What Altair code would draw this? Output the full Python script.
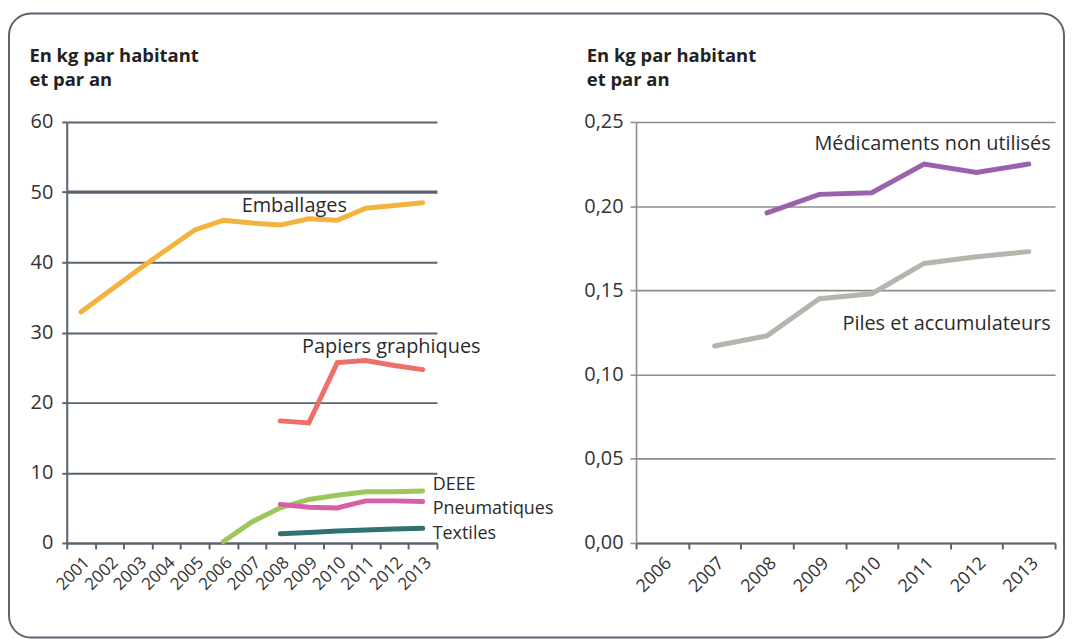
import altair as alt
import pandas as pd

# ---------------- data ----------------
left_years = [str(y) for y in range(2001, 2014)]
emballages = [32.9, 35.9, 38.9, 41.8, 44.6, 46.0, 45.6, 45.3, 46.2, 46.0, 47.7, 48.1, 48.5]
papiers = [None, None, None, None, None, None, None, 17.4, 17.1, 25.7, 26.0, 25.3, 24.7]
deee = [None, None, None, None, None, 0.2, 3.0, 5.0, 6.2, 6.8, 7.3, 7.3, 7.4]
pneumatiques = [None, None, None, None, None, None, None, 5.5, 5.1, 5.0, 6.0, 6.0, 5.9]
textiles = [None, None, None, None, None, None, None, 1.3, 1.5, 1.7, 1.85, 2.0, 2.1]
left_ticks = [0, 10, 20, 30, 40, 50, 60]

right_years = [str(y) for y in range(2006, 2014)]
medicaments = [None, None, 0.196, 0.207, 0.208, 0.225, 0.220, 0.225]
piles = [None, 0.117, 0.123, 0.145, 0.148, 0.166, 0.170, 0.173]
right_ticks = [0, 0.05, 0.10, 0.15, 0.20, 0.25]

left_series = {
    "Emballages": emballages,
    "Papiers graphiques": papiers,
    "DEEE": deee,
    "Pneumatiques": pneumatiques,
    "Textiles": textiles,
}
right_series = {
    "Médicaments non utilisés": medicaments,
    "Piles et accumulateurs": piles,
}
left_colors = ["#f4b33f", "#ee6e68", "#9cc75a", "#d85ea6", "#2f7270"]
right_colors = ["#9a61ad", "#b9b3ae"]

FONT = "Open Sans"
TITLE = ["En kg par habitant", "et par an"]


def long_df(years, series):
    rows = []
    for name, vals in series.items():
        for y, v in zip(years, vals):
            if v is not None:
                rows.append({"year": y, "value": v, "serie": name})
    return pd.DataFrame(rows)


def anchor(years, series, name, year):
    return pd.DataFrame([{"year": year, "value": series[name][years.index(year)], "label": name}])


left_df = long_df(left_years, left_series)
right_df = long_df(right_years, right_series)


def xenc(years, fs):
    return alt.X(
        "year:N",
        bandPosition=0.5,
        scale=alt.Scale(type="band", domain=years, paddingInner=0, paddingOuter=0),
        axis=alt.Axis(
            title=None, tickBand="extent", grid=False, labelAngle=-45,
            labelFontSize=fs, labelFont=FONT, labelColor="#333333",
            tickSize=6, labelPadding=5, labelAlign="right", labelBaseline="top",
        ),
    )


# ---------------- left panel ----------------
left_lines = alt.Chart(left_df).mark_line(strokeWidth=5, strokeCap="round").encode(
    x=xenc(left_years, 17),
    y=alt.Y(
        "value:Q",
        scale=alt.Scale(domain=[0, 60], nice=False, zero=True),
        axis=alt.Axis(
            values=left_ticks, title=TITLE, titleAngle=0, titleAlign="left",
            titleBaseline="alphabetic", titleX=-38, titleY=-61, titleFontSize=18.5,
            titleFont=FONT, titleFontWeight="bold", titleColor="#222222", titleLineHeight=24,
            labelFontSize=20, labelFont=FONT, labelColor="#333333", tickSize=5, labelPadding=9,
            gridColor="#5a6470",
            gridWidth={"condition": {"test": "datum.value === 50", "value": 3.2}, "value": 2},
        ),
    ),
    color=alt.Color("serie:N", scale=alt.Scale(domain=list(left_series.keys()), range=left_colors), legend=None),
)

def label(df, fs=20, **kw):
    return alt.Chart(df).mark_text(font=FONT, fontSize=fs, color="#2b2b2b", **kw).encode(
        x=alt.X("year:N", bandPosition=0.5), y="value:Q", text="label:N"
    )

lab_emb = label(anchor(left_years, left_series, "Emballages", "2008"), align="center", dx=14, dy=-19)
lab_pap = label(anchor(left_years, left_series, "Papiers graphiques", "2012"), align="center", dx=-3, dy=-19)
lab_deee = label(anchor(left_years, left_series, "DEEE", "2013"), fs=18, align="left", dx=10, dy=-6)
lab_pneu = label(anchor(left_years, left_series, "Pneumatiques", "2013"), fs=18, align="left", dx=10, dy=7)
lab_text = label(anchor(left_years, left_series, "Textiles", "2013"), fs=18, align="left", dx=10, dy=6)

border = alt.Chart(pd.DataFrame({"a": [0]})).mark_rect(
    fillOpacity=0, stroke="#5b6570", strokeWidth=2, cornerRadius=22
).encode(x=alt.value(-58), x2=alt.value(1002), y=alt.value(-109), y2=alt.value(518))

left = alt.layer(border, left_lines, lab_emb, lab_pap, lab_deee, lab_pneu, lab_text).properties(
    width=372, height=423
)

# ---------------- right panel ----------------
right_lines = alt.Chart(right_df).mark_line(strokeWidth=5, strokeCap="round").encode(
    x=xenc(right_years, 18),
    y=alt.Y(
        "value:Q",
        scale=alt.Scale(domain=[0, 0.25], nice=False, zero=True),
        axis=alt.Axis(
            values=right_ticks, title=TITLE, titleAngle=0, titleAlign="left",
            titleBaseline="alphabetic", titleX=-50, titleY=-61, titleFontSize=18.5,
            titleFont=FONT, titleFontWeight="bold", titleColor="#222222", titleLineHeight=24,
            labelFontSize=20, labelFont=FONT, labelColor="#333333", tickSize=6, labelPadding=7,
            labelExpr="replace(format(datum.value, '.2f'), '.', ',')",
            gridColor="#8c8c8c", gridWidth=1.6, domainColor="#8c8c8c", tickColor="#8c8c8c",
            domainWidth=1.6, tickWidth=1.6,
        ),
    ),
    color=alt.Color("serie:N", scale=alt.Scale(domain=list(right_series.keys()), range=right_colors), legend=None),
)

lab_med = label(anchor(right_years, right_series, "Médicaments non utilisés", "2013"), align="right", dx=22, dy=-20)
lab_pil = label(anchor(right_years, right_series, "Piles et accumulateurs", "2013"), align="right", dx=22, dy=73)

right = alt.layer(right_lines, lab_med, lab_pil).properties(width=421, height=423)

chart = alt.hconcat(left, right, spacing=200, bounds="flush").resolve_scale(
    x="independent", y="independent", color="independent"
).properties(
    padding={"left": 0, "top": 3, "right": 0, "bottom": 0}
).configure_view(stroke=None).configure_axis(
    domainColor="#5a6470", tickColor="#5a6470", domainWidth=2, tickWidth=2
)

chart.save("out.html", embed_options={"renderer": "svg", "actions": False})
